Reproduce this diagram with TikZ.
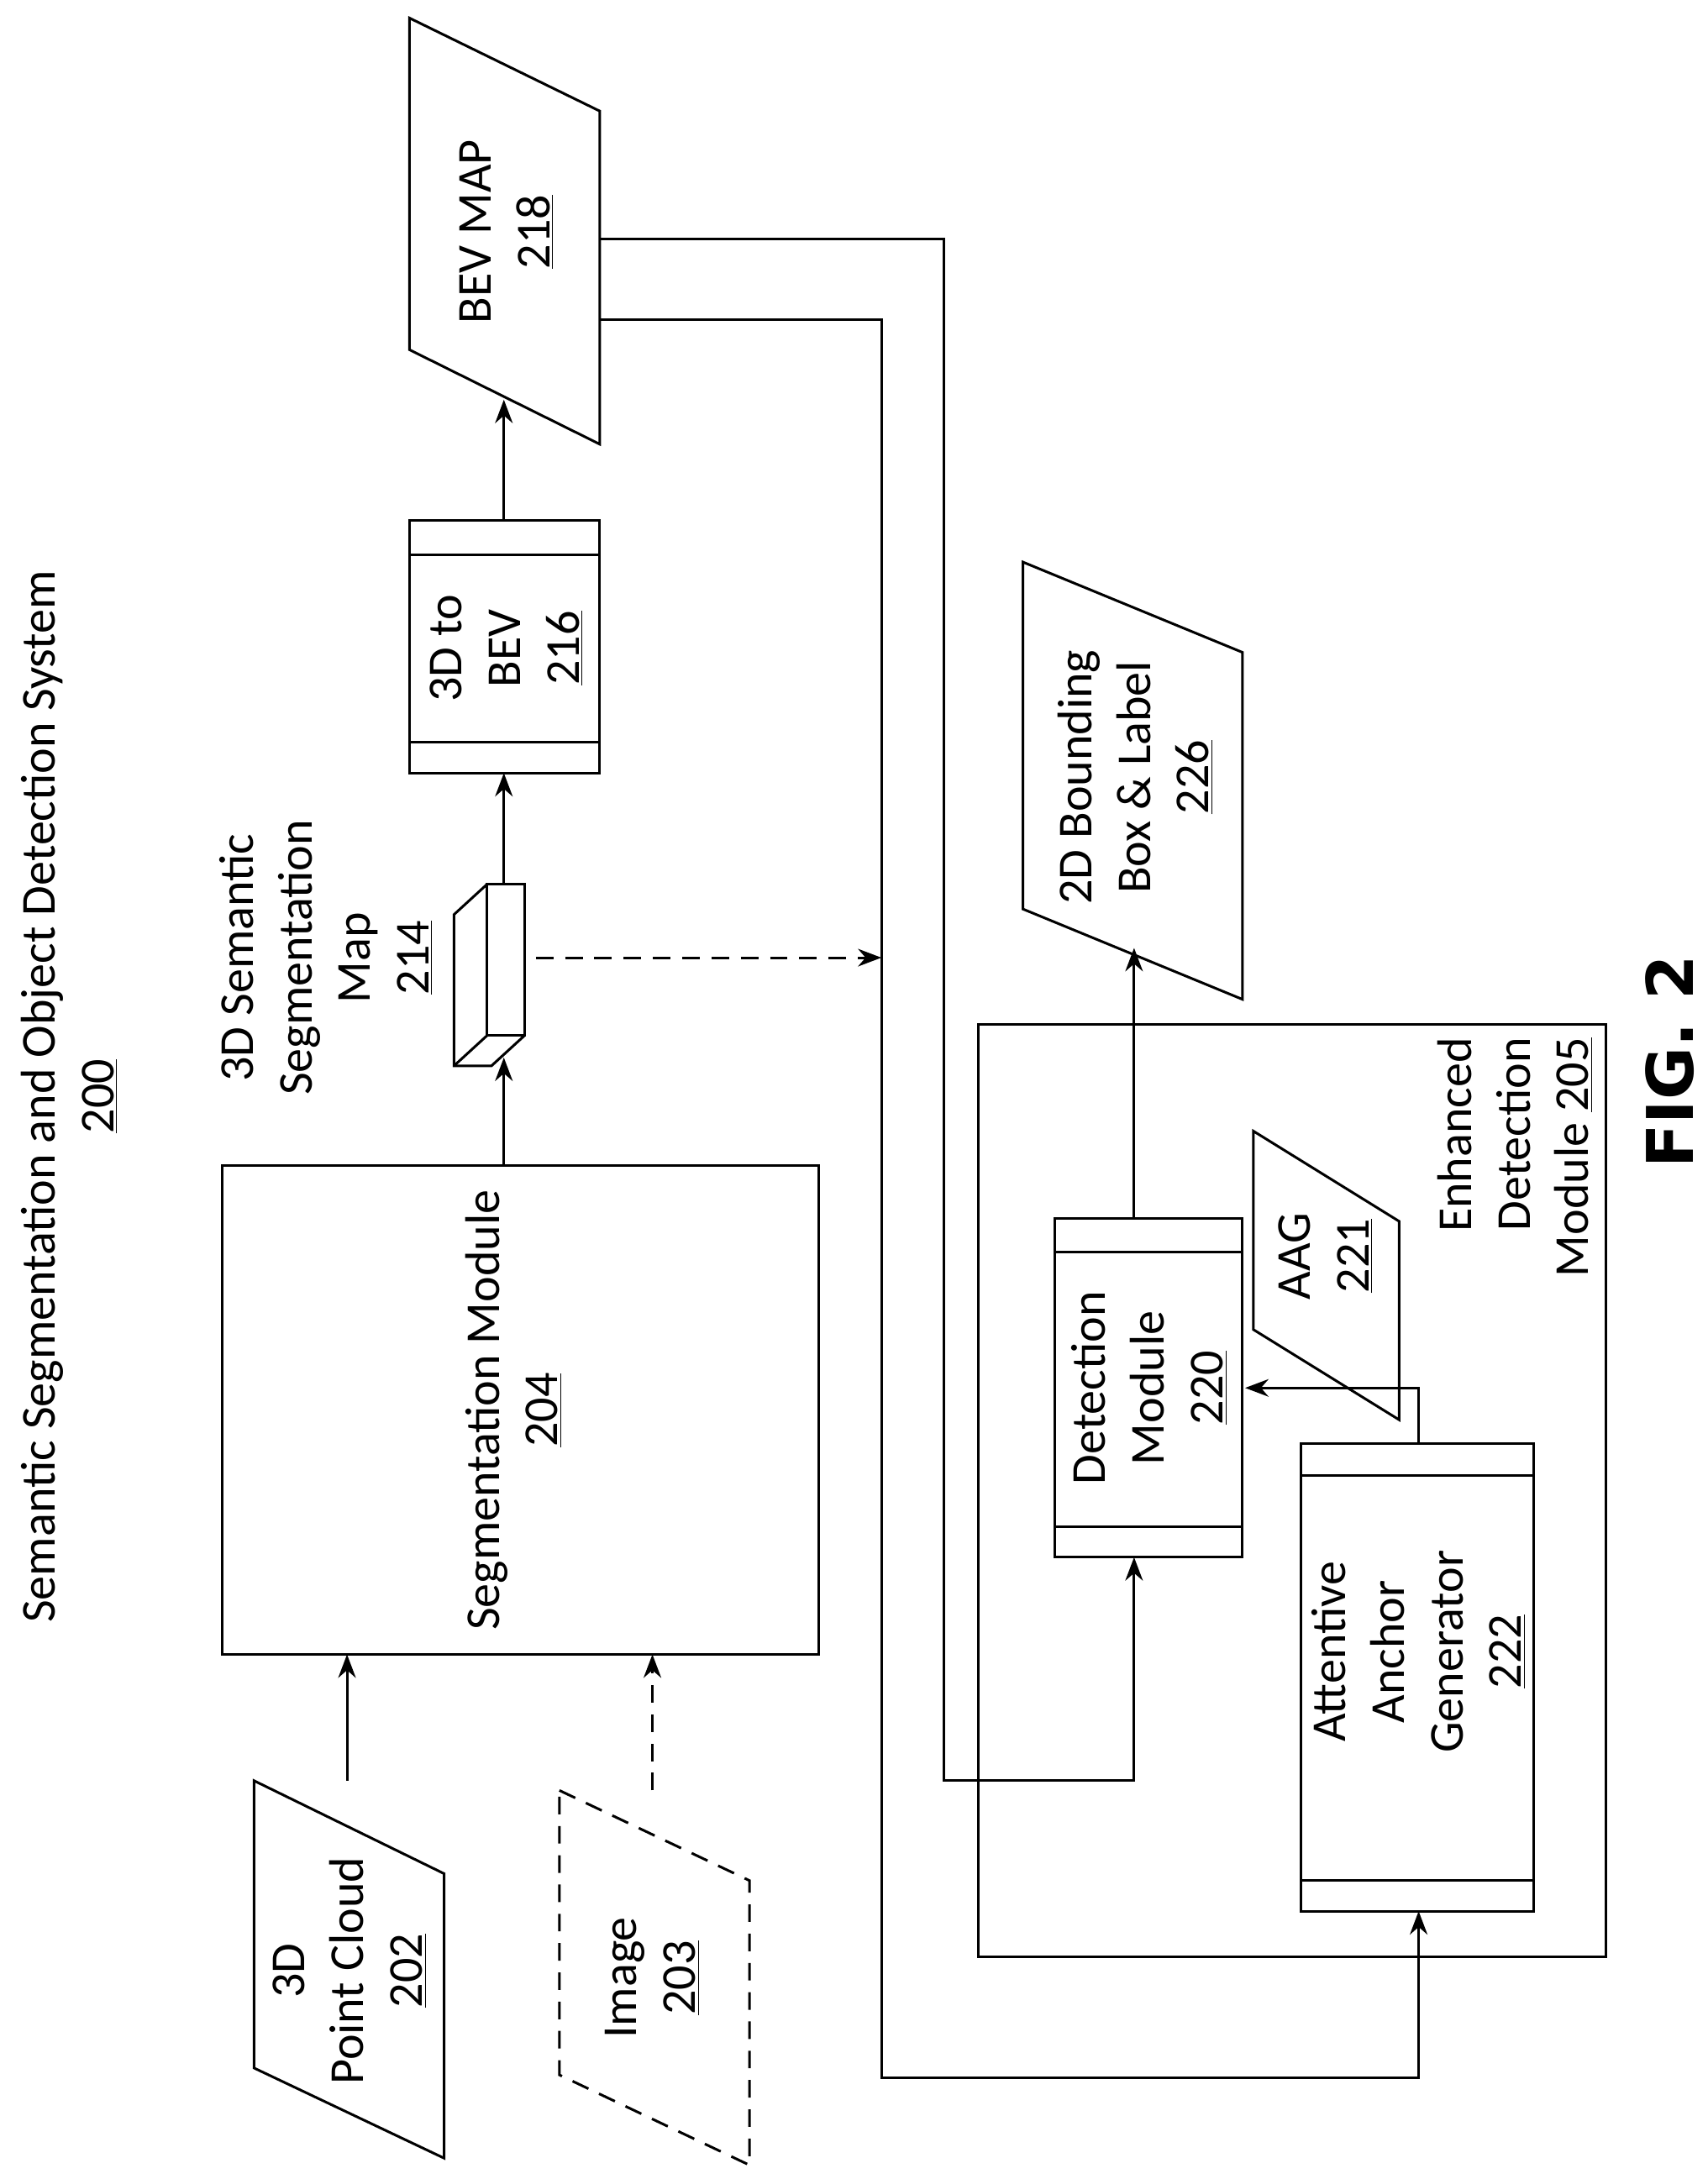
\documentclass[tikz,border=0pt]{standalone}
\usepackage{fontspec}
\setmainfont{Carlito}
\newfontfamily\figfont{DejaVu Sans}
\usetikzlibrary{arrows.meta}
\begin{document}
\begin{tikzpicture}[x=0.025cm,y=-0.025cm,line width=1.3pt,
  lbl/.style={rotate=90,align=center,font=\fontsize{25}{30}\selectfont},
  arr/.style={-{Stealth[length=12pt,width=9pt]}},
  dsh/.style={dash pattern=on 9pt off 6pt}]
\useasboundingbox (0,0) rectangle (1230,1570);
% title
\node[lbl] (title) at (50,790) {Semantic Segmentation and Object Detection System\\\underline{200}};
% point cloud
\draw (183,1283) -- (320,1350) -- (320,1555) -- (183,1490) -- cycle;
\node[lbl] (pc) at (252,1420) {3D\\Point Cloud\\\underline{202}};
\coordinate (pctop) at (250,1283);
% image
\draw[dsh] (403,1290) -- (540,1355) -- (540,1560) -- (403,1495) -- cycle;
\node[lbl] (img) at (470,1425) {Image\\\underline{203}};
\coordinate (imgtop) at (470,1290);
% segmentation module
\draw (160,840) rectangle (590,1192);
\node[lbl] (seg) at (370,1016) {Segmentation Module\\\underline{204}};
\coordinate (segbot1) at (250,1192);
\coordinate (segbot2) at (470,1192);
\draw[arr] (pctop) -- (segbot1);
\draw[arr,dsh] (imgtop) -- (segbot2);
% 3D map 214
\draw (351,637) rectangle (378,746);
\draw (351,637) -- (327,659) -- (327,768) -- (354,768) -- (378,746);
\draw (327,768) -- (351,746);
\node[lbl] (m214) at (235,690) {3D Semantic\\Segmentation\\Map\\\underline{214}};
\draw[arr] (363,840) -- (363,762);
% 3D to BEV
\draw (295,375) rectangle (432,557);
\draw (295,400) -- (432,400) (295,535) -- (432,535);
\node[lbl] (b216) at (365,467) {3D to\\BEV\\\underline{216}};
\draw[arr] (363,637) -- (363,557);
% BEV map
\draw (295,13) -- (432,80) -- (432,320) -- (295,252) -- cycle;
\node[lbl] (bev) at (365,167) {BEV MAP\\\underline{218}};
\draw[arr] (363,375) -- (363,288);
\coordinate (ah) at (635,690);
\draw[arr,dsh] (386,690) -- (ah);
% 2D bbox
\draw (737,405) -- (895,470) -- (895,720) -- (737,655) -- cycle;
\node[lbl] (bb) at (818,560) {2D Bounding\\Box \& Label\\\underline{226}};
% enhanced module
\draw (705,738) rectangle (1157,1410);
\node[lbl,align=right,anchor=north east] (enh) at (1030,742) {Enhanced\\Detection\\Module \underline{205}};
% detection module
\draw (760,878) rectangle (895,1122);
\draw (760,902) -- (895,902) (760,1100) -- (895,1100);
\node[lbl] (det) at (828,1000) {Detection\\Module\\\underline{220}};
\draw[arr] (817,878) -- (817,683);
% AAG
\draw (903,815) -- (1008,880) -- (1008,1023) -- (903,958) -- cycle;
\node[lbl] (aag) at (955,905) {AAG\\\underline{221}};
% attentive anchor generator
\draw (937,1040) rectangle (1105,1377);
\draw (937,1063) -- (1105,1063) (937,1355) -- (1105,1355);
\node[lbl] (aa) at (1022,1190) {Attentive\\Anchor\\Generator\\\underline{222}};
\draw[arr] (1022,1040) -- (1022,1000) -- (897,1000);
% BEV connections
\draw[arr] (432,172) -- (680,172) -- (680,1283) -- (817,1283) -- (817,1122);
\draw[arr] (432,230) -- (635,230) -- (635,1497) -- (1022,1497) -- (1022,1377);
% FIG
\node[rotate=90,font=\fontsize{33}{40}\selectfont\figfont\bfseries] (fig) at (1203,765) {FIG. 2};
\end{tikzpicture}
\end{document}
